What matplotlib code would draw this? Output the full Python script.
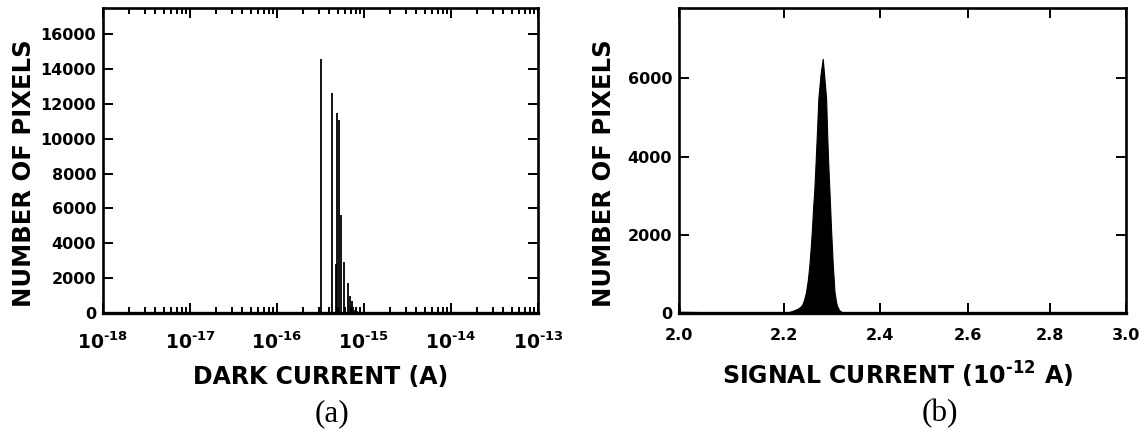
import matplotlib
matplotlib.use("Agg")
import matplotlib.pyplot as plt
from matplotlib.ticker import FixedLocator, FixedFormatter, LogLocator, NullLocator

# --- (a) dark current histogram: bin position (A) and pixel count ---
dark_current = [3.18e-16, 4.26e-16, 4.78e-16, 4.87e-16, 5.20e-16, 5.42e-16,
                5.85e-16, 6.50e-16, 6.85e-16, 7.20e-16, 7.50e-16, 7.90e-16, 8.30e-16]
dark_count = [14600, 12600, 2800, 11500, 11100, 5600,
              2900, 1700, 1000, 700, 350, 150, 120]

# --- (b) signal current distribution (1e-12 A) and pixel count ---
signal_current = [2.000, 2.002, 2.100, 2.200, 2.210, 2.218, 2.226, 2.232, 2.236,
                  2.240, 2.244, 2.248, 2.251, 2.254, 2.256, 2.259, 2.261, 2.264,
                  2.266, 2.2695, 2.274, 2.2785, 2.282, 2.2855, 2.288, 2.290,
                  2.2925, 2.296, 2.2995, 2.303, 2.306, 2.308, 2.312, 2.315, 2.320]
signal_count = [200, 30, 15, 15, 25, 60, 100, 150, 200,
                330, 520, 850, 1210, 1700, 2080, 2750, 3100, 3900,
                4460, 5490, 6100, 6500, 6000, 5490, 4460, 3800,
                3100, 2080, 1210, 540, 300, 190, 90, 50, 15]

HY = "\u2010"  # short hyphen, as in the original superscripts
dark_ticks = [1e-18, 1e-17, 1e-16, 1e-15, 1e-14, 1e-13]
dark_tick_labels = [r"$\mathbf{10^{%s%d}}$" % (HY, e) for e in (18, 17, 16, 15, 14, 13)]
signal_ticks = [2.0, 2.2, 2.4, 2.6, 2.8, 3.0]
signal_tick_labels = ["2.0", "2.2", "2.4", "2.6", "2.8", "3.0"]
left_yticks = [0, 2000, 4000, 6000, 8000, 10000, 12000, 14000, 16000]
right_yticks = [0, 2000, 4000, 6000]

plt.rcParams["font.family"] = "DejaVu Sans"
plt.rcParams["font.weight"] = "bold"
plt.rcParams["mathtext.fontset"] = "dejavusans"

W, H = 1147, 436
fig = plt.figure(figsize=(W / 100, H / 100), dpi=100)


def px_axes(x0, x1, y0, y1):
    return fig.add_axes([x0 / W, 1 - y1 / H, (x1 - x0) / W, (y1 - y0) / H])


def style(ax):
    for sp in ax.spines.values():
        sp.set_linewidth(1.9)
    ax.spines["bottom"].set_linewidth(2.4)
    ax.tick_params(which="both", direction="in", top=True, right=True, width=1.4)
    ax.tick_params(which="major", length=7)
    ax.tick_params(which="minor", length=4)
    ax.tick_params(axis="x", pad=11, labelsize=11.5)
    ax.tick_params(axis="y", pad=5, labelsize=11.5)
    for lab in ax.get_xticklabels() + ax.get_yticklabels():
        lab.set_fontweight("bold")


# ---------- panel (a) ----------
ax1 = px_axes(103, 538, 8, 313)
ax1.vlines(dark_current, 0, dark_count, color="black", lw=1.3)
ax1.set_xscale("log")
ax1.set_xlim(1e-18, 1e-13)
ax1.set_ylim(0, 17500)
ax1.xaxis.set_major_locator(FixedLocator(dark_ticks))
ax1.xaxis.set_major_formatter(FixedFormatter(dark_tick_labels))
ax1.xaxis.set_minor_locator(LogLocator(base=10, subs=range(2, 10), numticks=20))
ax1.set_yticks(left_yticks)
style(ax1)
ax1.tick_params(axis="x", labelsize=13.5, pad=13)
ax1.set_xlabel("DARK CURRENT (A)", fontsize=17, fontweight="bold")
ax1.xaxis.set_label_coords(0.5, -0.17)
ax1.set_ylabel("NUMBER OF PIXELS", fontsize=17.5, fontweight="bold")
ax1.yaxis.set_label_coords(-0.155, 0.46)
fig.text(332 / W, 1 - 414 / H, "(a)", family="Liberation Serif", fontweight="normal",
         fontsize=22.5, ha="center", va="center")

# ---------- panel (b) ----------
ax2 = px_axes(679, 1126, 8, 313)
ax2.fill_between(signal_current, signal_count, 0, color="black", lw=0.8)
ax2.set_xscale("log")
ax2.set_xlim(2.0, 3.0)
ax2.set_ylim(0, 7800)
ax2.xaxis.set_major_locator(FixedLocator(signal_ticks))
ax2.xaxis.set_major_formatter(FixedFormatter(signal_tick_labels))
ax2.xaxis.set_minor_locator(NullLocator())
ax2.set_yticks(right_yticks)
style(ax2)
ax2.set_xlabel(r"SIGNAL CURRENT (10$^{\mathbf{%s12}}$ A)" % HY, fontsize=17,
               fontweight="bold")
ax2.xaxis.set_label_coords(0.49, -0.155)
ax2.set_ylabel("NUMBER OF PIXELS", fontsize=17.5, fontweight="bold")
ax2.yaxis.set_label_coords(-0.14, 0.46)
fig.text(940 / W, 1 - 414 / H, "(b)", family="Liberation Serif", fontweight="normal",
         fontsize=22.5, ha="center", va="center")

fig.savefig("out.png", dpi=100, facecolor="white")
